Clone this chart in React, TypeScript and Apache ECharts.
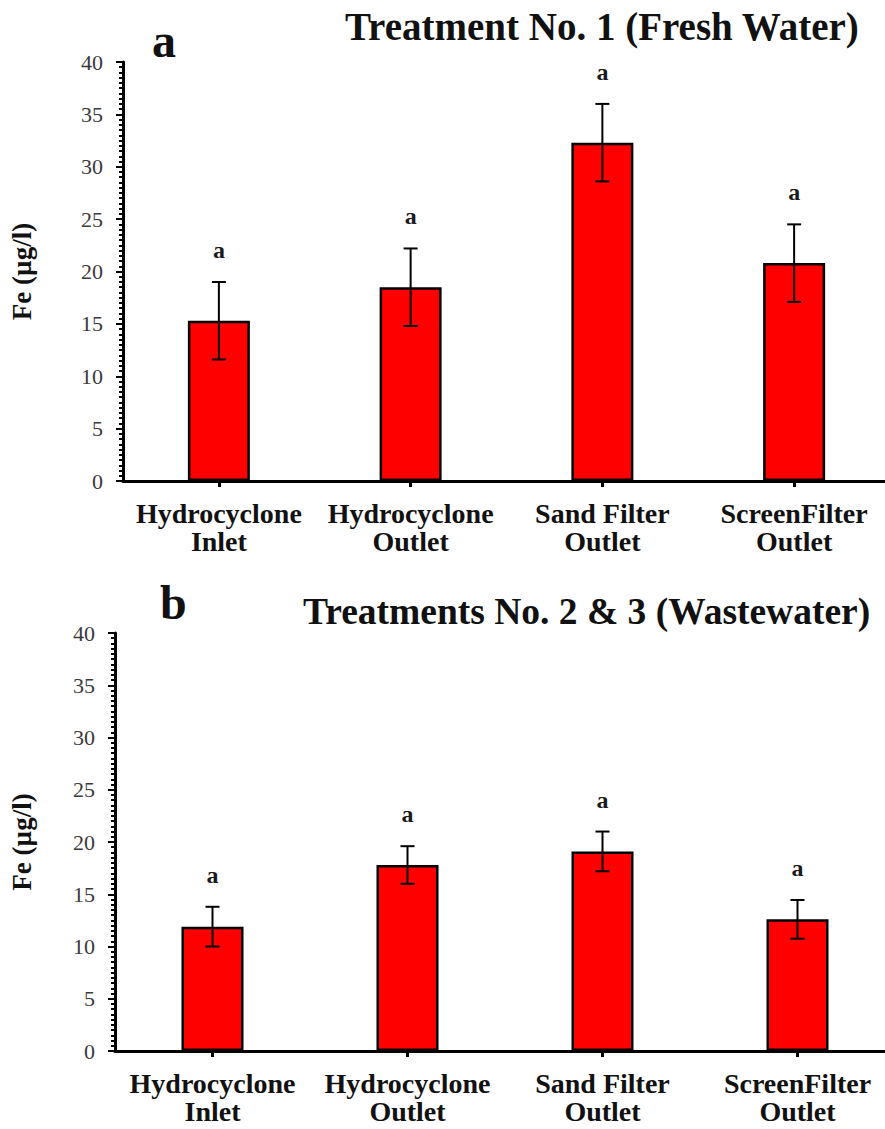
import React, { useEffect, useRef } from "react";
import * as echarts from "echarts";

const categories = [
  "Hydrocyclone\nInlet",
  "Hydrocyclone\nOutlet",
  "Sand Filter\nOutlet",
  "ScreenFilter\nOutlet",
];
const freshMeans = [15.3, 18.5, 32.3, 20.8];
const freshErr = [3.7, 3.7, 3.7, 3.7];
const freshLetters = ["a", "a", "a", "a"];
const wasteMeans = [11.9, 17.8, 19.1, 12.6];
const wasteErr = [1.9, 1.8, 1.9, 1.85];
const wasteLetters = ["a", "a", "a", "a"];
const yTicks = { min: 0, max: 40, interval: 5 };
const titleA = "Treatment No. 1 (Fresh Water)";
const titleB = "Treatments No. 2 & 3 (Wastewater)";
const yName = "Fe (µg/l)";

const SERIF = '"Liberation Serif", "Times New Roman", serif';

function errorRender(letters: string[]) {
  return (params: any, api: any) => {
    const x = api.value(0);
    const m = api.value(1);
    const e = api.value(2);
    const top = api.coord([x, m + e]);
    const bot = api.coord([x, m - e]);
    const half = 7;
    const st = { stroke: "#000", lineWidth: 2 };
    return {
      type: "group",
      children: [
        { type: "line", shape: { x1: top[0], y1: top[1], x2: bot[0], y2: bot[1] }, style: st },
        { type: "line", shape: { x1: top[0] - half, y1: top[1], x2: top[0] + half, y2: top[1] }, style: st },
        { type: "line", shape: { x1: bot[0] - half, y1: bot[1], x2: bot[0] + half, y2: bot[1] }, style: st },
        {
          type: "text",
          x: top[0],
          y: top[1] - 32,
          style: {
            text: letters[params.dataIndex],
            textAlign: "center",
            textVerticalAlign: "middle",
            font: `bold 24px ${SERIF}`,
            fill: "#1a1a1a",
          },
        },
      ],
    };
  };
}

function xAxisCfg(gridIndex: number) {
  return {
    type: "category",
    gridIndex,
    data: categories,
    axisLine: { show: true, lineStyle: { color: "#000", width: 3 } },
    axisTick: { show: true, alignWithLabel: true, length: 6, lineStyle: { color: "#000", width: 3 } },
    axisLabel: {
      margin: 18,
      fontFamily: SERIF,
      fontWeight: "bold",
      fontSize: 28,
      lineHeight: 28,
      color: "#111",
      interval: 0,
    },
    splitLine: { show: false },
  };
}

function yAxisCfg(gridIndex: number, nameGap: number) {
  return {
    type: "value",
    gridIndex,
    min: yTicks.min,
    max: yTicks.max,
    interval: yTicks.interval,
    name: yName,
    nameLocation: "middle",
    nameGap,
    nameRotate: 90,
    nameTextStyle: { fontFamily: SERIF, fontWeight: "bold", fontSize: 27, color: "#111" },
    axisLine: { show: true, lineStyle: { color: "#000", width: 3 } },
    axisTick: { show: true, length: 7, lineStyle: { color: "#000", width: 2 } },
    minorTick: { show: true, splitNumber: 10, length: 4, lineStyle: { color: "#000", width: 2 } },
    axisLabel: { margin: 20, fontFamily: SERIF, fontSize: 22, color: "#3a3a3a" },
    splitLine: { show: false },
    minorSplitLine: { show: false },
  };
}

function barSeries(idx: number, means: number[]) {
  return {
    type: "bar",
    xAxisIndex: idx,
    yAxisIndex: idx,
    data: means,
    barWidth: 62,
    itemStyle: { color: "#ff0000", borderColor: "#000", borderWidth: 2.5 },
    z: 2,
  };
}

function errSeries(idx: number, means: number[], errs: number[], letters: string[]) {
  return {
    type: "custom",
    xAxisIndex: idx,
    yAxisIndex: idx,
    data: means.map((m, i) => [i, m, errs[i]]),
    encode: { x: 0, y: 1 },
    renderItem: errorRender(letters),
    z: 10,
  };
}

export default function App() {
  const ref = useRef<HTMLDivElement>(null);
  useEffect(() => {
    if (!ref.current) return;
    const chart = echarts.init(ref.current, null, { renderer: "svg" });
    chart.setOption({
      animation: false,
      backgroundColor: "#ffffff",
      grid: [
        { left: 112, top: 62, width: 778, height: 419 },
        { left: 113, top: 633, width: 782, height: 418 },
      ],
      xAxis: [xAxisCfg(0), xAxisCfg(1)],
      yAxis: [yAxisCfg(0, 88), yAxisCfg(1, 80)],
      series: [
        barSeries(0, freshMeans),
        errSeries(0, freshMeans, freshErr, freshLetters),
        barSeries(1, wasteMeans),
        errSeries(1, wasteMeans, wasteErr, wasteLetters),
      ],
      graphic: [
        {
          type: "text",
          left: 152,
          top: 16,
          style: { text: "a", font: `bold 48px ${SERIF}`, fill: "#111" },
        },
        {
          type: "text",
          left: 345,
          top: 7,
          style: { text: titleA, font: `bold 39px ${SERIF}`, fill: "#111" },
        },
        {
          type: "text",
          left: 160,
          top: 578,
          style: { text: "b", font: `bold 48px ${SERIF}`, fill: "#111" },
        },
        {
          type: "text",
          left: 303,
          top: 592,
          style: { text: titleB, font: `bold 37.5px ${SERIF}`, fill: "#111" },
        },
      ],
    });
    return () => chart.dispose();
  }, []);
  return (
    <div style={{ position: "absolute", left: 0, top: 0, width: 885, height: 1129, overflow: "hidden", background: "#fff" }}>
      <div ref={ref} style={{ width: 900, height: 1129 }} />
    </div>
  );
}
